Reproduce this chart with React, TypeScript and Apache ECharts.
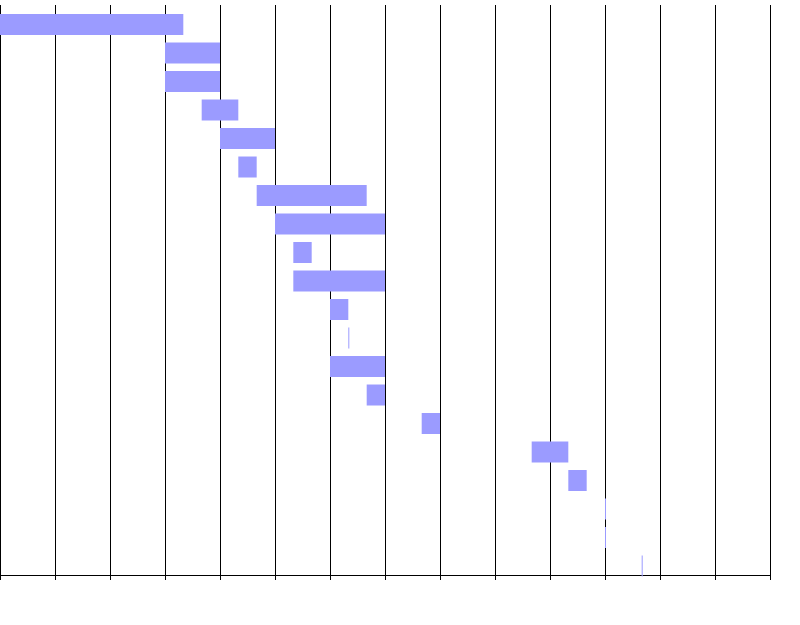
import React, { useEffect, useRef } from "react";
import * as echarts from "echarts";

// Schedule rows, top to bottom
const tasks = [
  "Task 1", "Task 2", "Task 3", "Task 4", "Task 5",
  "Task 6", "Task 7", "Task 8", "Task 9", "Task 10",
  "Task 11", "Task 12", "Task 13", "Task 14", "Task 15",
  "Task 16", "Task 17", "Task 18", "Task 19", "Task 20",
];

// Start and end of each task on the time axis
const starts = [
  0, 3, 3, 3.667, 4, 4.333, 4.667, 5, 5.333, 5.333,
  6, 6.333, 6, 6.667, 7.667, 9.667, 10.333, 11, 11, 11.667,
];
const ends = [
  3.333, 4, 4, 4.333, 5, 4.667, 6.667, 7, 5.667, 7,
  6.333, 6.333, 7, 7, 8, 10.333, 10.667, 11, 11, 11.667,
];

const axisMin = 0;
const axisMax = 14;
const tickInterval = 1;

export default function App() {
  const ref = useRef<HTMLDivElement>(null);

  useEffect(() => {
    if (!ref.current) return;
    const chart = echarts.init(ref.current, undefined, { renderer: "svg" });

    const data = tasks.map((_, i) => [i, starts[i], ends[i]]);

    chart.setOption({
      animation: false,
      backgroundColor: "#ffffff",
      grid: { left: 0, right: 30, top: 5, bottom: 50, containLabel: false },
      xAxis: {
        type: "value",
        min: axisMin,
        max: axisMax,
        interval: tickInterval,
        axisLine: { show: true, lineStyle: { color: "#000", width: 1 } },
        axisTick: { show: true, length: 5, lineStyle: { color: "#000", width: 1 } },
        axisLabel: { show: false },
        splitLine: { show: true, lineStyle: { color: "#000", width: 1 } },
      },
      yAxis: {
        type: "category",
        data: tasks,
        inverse: true,
        axisLine: { show: false },
        axisTick: { show: false },
        axisLabel: { show: false },
        splitLine: { show: false },
      },
      series: [
        {
          type: "custom",
          encode: { x: [1, 2], y: 0 },
          data,
          renderItem: (params: any, api: any) => {
            const idx = api.value(0);
            const p0 = api.coord([api.value(1), idx]);
            const p1 = api.coord([api.value(2), idx]);
            const band = api.size([0, 1])[1];
            const top = p0[1] - band / 2 + band * 0.316;
            const h = band * 0.737;
            const w = Math.max(p1[0] - p0[0], 1);
            return {
              type: "rect",
              shape: { x: p0[0], y: top, width: w, height: h },
              style: { fill: "#9b9bff" },
            };
          },
          z: 3,
        },
      ],
    });

    return () => chart.dispose();
  }, []);

  return (
    <div
      ref={ref}
      style={{ position: "fixed", left: 0, top: 0, width: 800, height: 625 }}
    />
  );
}
